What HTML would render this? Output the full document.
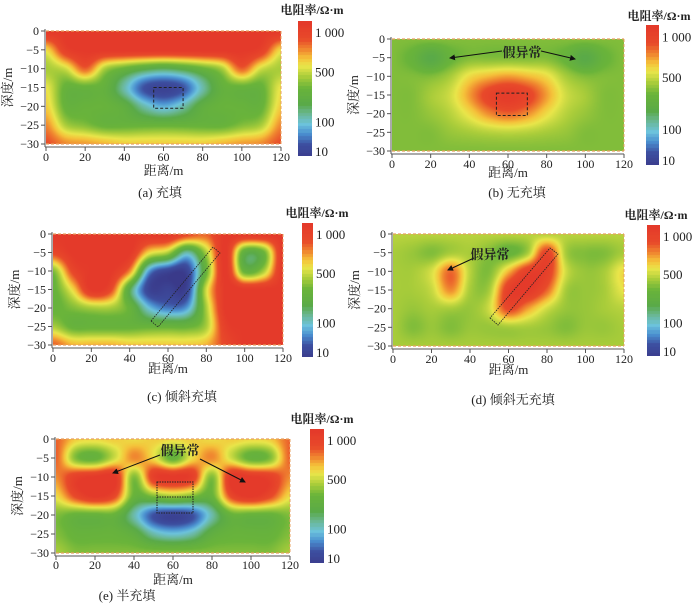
<!DOCTYPE html>
<html><head><meta charset="utf-8">
<style>
body{margin:0;background:#fff;width:700px;height:604px;overflow:hidden;position:relative;font-family:"Liberation Serif","Noto Serif CJK SC",serif}
canvas{position:absolute}
svg{position:absolute;left:0;top:0}
</style></head>
<body>
<svg id="ov" width="700" height="604"></svg>
<script>
// Resistivity grids (normalized colour scale 0=10 Ω·m ... 1=>1000 Ω·m), columns x=0..120 step 10, rows depth 0..-30 step 5
const xCats=[0,10,20,30,40,50,60,70,80,90,100,110,120];
const depthCats=[0,-5,-10,-15,-20,-25,-30];
const xTicks=[0,20,40,60,80,100,120];
const yTicks=[0,-5,-10,-15,-20,-25,-30];
const cbLabels=["1 000","500","100","10"];
const cbLabelVals=[0.91,0.62,0.25,0.03];
const gridA=[
[1,1,1,1,1,1,1,1,1,1,1,1,1],
[0.7,0.95,1,1,1,1,1,1,1,1,1,0.95,0.7],
[0.6,0.65,0.85,0.6,0.5,0.42,0.38,0.42,0.5,0.6,0.85,0.65,0.6],
[0.68,0.5,0.5,0.48,0.3,0.1,0.05,0.1,0.3,0.48,0.5,0.5,0.68],
[0.72,0.5,0.5,0.5,0.45,0.3,0.22,0.3,0.45,0.5,0.5,0.5,0.72],
[0.8,0.6,0.55,0.5,0.5,0.5,0.5,0.5,0.5,0.5,0.55,0.6,0.8],
[0.88,0.8,0.78,0.75,0.72,0.72,0.72,0.72,0.72,0.75,0.78,0.8,0.88]];
const gridB=[
[0.55,0.55,0.55,0.55,0.55,0.55,0.55,0.55,0.55,0.55,0.55,0.55,0.55],
[0.55,0.5,0.4,0.5,0.55,0.55,0.55,0.55,0.55,0.5,0.4,0.5,0.55],
[0.55,0.55,0.55,0.6,0.7,0.75,0.78,0.75,0.7,0.6,0.55,0.55,0.55],
[0.55,0.55,0.6,0.65,0.78,0.92,0.98,0.92,0.78,0.65,0.6,0.55,0.55],
[0.55,0.55,0.58,0.62,0.7,0.8,0.85,0.8,0.7,0.62,0.58,0.55,0.55],
[0.55,0.55,0.55,0.58,0.6,0.62,0.63,0.62,0.6,0.58,0.55,0.55,0.55],
[0.55,0.55,0.55,0.55,0.55,0.55,0.55,0.55,0.55,0.55,0.55,0.55,0.55]];
const gridC=[
[1,1,1,1,1,1,1,0.9,0.85,1,1,1,1],
[0.9,1,1,1,1,0.7,0.6,0.3,0.6,1,0.45,0.5,1],
[0.55,0.9,1,1,0.8,0.2,0.05,0.05,0.5,1,0.5,0.6,1],
[0.5,0.7,1,0.9,0.4,0.05,0.05,0.05,0.65,1,1,1,1],
[0.5,0.55,0.6,0.6,0.5,0.25,0.15,0.2,0.6,1,1,1,1],
[0.6,0.5,0.5,0.5,0.5,0.5,0.5,0.5,0.6,0.95,1,1,1],
[0.85,0.75,0.75,0.75,0.72,0.72,0.72,0.72,0.75,0.9,1,1,1]];
const gridD=[
[0.62,0.62,0.62,0.62,0.62,0.62,0.62,0.62,0.62,0.62,0.62,0.62,0.62],
[0.6,0.58,0.55,0.6,0.6,0.55,0.5,0.6,0.92,0.6,0.55,0.55,0.6],
[0.6,0.6,0.66,0.84,0.62,0.55,0.75,0.95,0.95,0.65,0.58,0.6,0.7],
[0.6,0.6,0.64,0.8,0.6,0.6,0.95,1,0.85,0.6,0.58,0.6,0.68],
[0.6,0.58,0.6,0.6,0.58,0.65,0.9,0.78,0.65,0.58,0.58,0.6,0.62],
[0.6,0.55,0.58,0.55,0.58,0.58,0.6,0.6,0.58,0.55,0.58,0.58,0.6],
[0.6,0.6,0.6,0.6,0.6,0.6,0.6,0.6,0.6,0.6,0.6,0.6,0.6]];
const gridE=[
[0.85,0.72,0.7,0.72,0.7,0.72,0.7,0.72,0.7,0.72,0.7,0.72,0.85],
[0.85,0.55,0.5,0.65,0.8,0.7,0.5,0.7,0.8,0.65,0.5,0.55,0.85],
[0.8,0.95,1,1,0.55,0.95,1,0.95,0.55,1,1,0.95,0.8],
[0.7,0.9,1,0.9,0.5,0.55,0.6,0.55,0.5,0.9,1,0.9,0.7],
[0.55,0.5,0.5,0.5,0.3,0.1,0.05,0.1,0.3,0.5,0.5,0.5,0.55],
[0.55,0.5,0.5,0.5,0.45,0.3,0.25,0.3,0.45,0.5,0.5,0.5,0.55],
[0.6,0.55,0.55,0.55,0.55,0.55,0.55,0.55,0.55,0.55,0.55,0.55,0.6]];

const stops=[[0,[58,58,138]],[0.1,[61,79,160]],[0.18,[74,143,208]],[0.25,[108,195,220]],[0.32,[107,184,154]],[0.4,[90,170,72]],[0.52,[106,180,58]],[0.6,[168,204,58]],[0.68,[233,230,74]],[0.74,[245,194,58]],[0.8,[240,138,48]],[0.88,[232,74,42]],[1,[228,58,42]]];
function cmap(v){v=Math.max(0,Math.min(1,v));for(let i=1;i<stops.length;i++){if(v<=stops[i][0]){const a=stops[i-1],b=stops[i],t=(v-a[0])/(b[0]-a[0]);return a[1].map((c,k)=>Math.round(c+(b[1][k]-c)*t));}}return stops[stops.length-1][1];}
function cr(p0,p1,p2,p3,t){return 0.5*((2*p1)+(-p0+p2)*t+(2*p0-5*p1+4*p2-p3)*t*t+(-p0+3*p1-3*p2+p3)*t*t*t);}
function sample(g,x,d){const c=Math.min(x/10,11.9999),r=Math.min(d/5,5.9999);const c0=Math.floor(c),r0=Math.floor(r);const tx=c-c0,ty=r-r0;
const cl=(v,m)=>Math.max(0,Math.min(m,v));const rows=[];
for(let k=-1;k<=2;k++){const row=g[cl(r0+k,6)];rows.push(cr(row[cl(c0-1,12)],row[c0],row[cl(c0+1,12)],row[cl(c0+2,12)],tx));}
return cr(rows[0],rows[1],rows[2],rows[3],ty);}

const NS="http://www.w3.org/2000/svg";
const ov=document.getElementById('ov');
function el(tag,at,parent){const e=document.createElementNS(NS,tag);for(const k in at)e.setAttribute(k,at[k]);(parent||ov).appendChild(e);return e;}
function txt(s,x,y,at,parent){const e=el('text',Object.assign({x:x,y:y,'font-size':12,fill:'#222'},at),parent);e.textContent=s;return e;}

const panels=[
{id:'a',g:gridA,x0:46,x1:281,y0:31,y1:144,cb:[298,14,21,156],cbt:[312,14],cap:['(a) 充填',160,197],xl:175,tl:17},
{id:'b',g:gridB,x0:392,x1:624,y0:39,y1:151,cb:[646,13,25,165],cbt:[659,20],cap:['(b) 无充填',517,197],xl:177,tl:17},
{id:'c',g:gridC,x0:53,x1:283,y0:234,y1:345,cb:[302,11,223,357],cbt:[317,217],cap:['(c) 倾斜充填',182,401],xl:373,tl:17},
{id:'d',g:gridD,x0:393,x1:624,y0:234,y1:346,cb:[647,13,225,356],cbt:[656,219],cap:['(d) 倾斜无充填',513,404],xl:374,tl:17},
{id:'e',g:gridE,x0:56,x1:290,y0:439,y1:553,cb:[310,14,429,563],cbt:[322,423],cap:['(e) 半充填',127,600],xl:584,tl:16}];

panels.forEach(p=>{
  const w=p.x1-p.x0,h=p.y1-p.y0;
  const cv=document.createElement('canvas');cv.width=w;cv.height=h;cv.style.left=p.x0+'px';cv.style.top=p.y0+'px';
  
  
  document.body.insertBefore(cv,ov);
  const ctx=cv.getContext('2d'),im=ctx.createImageData(w,h);
  for(let j=0;j<h;j++)for(let i=0;i<w;i++){const v=sample(p.g,i/(w-1)*120,j/(h-1)*30);const c=cmap(v),o=(j*w+i)*4;im.data[o]=c[0];im.data[o+1]=c[1];im.data[o+2]=c[2];im.data[o+3]=255;}
  ctx.putImageData(im,0,0);
  const [cx,cw,cy0,cy1]=p.cb,ch=cy1-cy0;
  const cb=document.createElement('canvas');cb.width=cw;cb.height=ch;cb.style.left=cx+'px';cb.style.top=cy0+'px';
  
  
  document.body.insertBefore(cb,ov);
  const bc=cb.getContext('2d');
  for(let j=0;j<ch;j++){const v=1-Math.floor(j/ch*40)/40;const c=cmap(v);bc.fillStyle=`rgb(${c[0]},${c[1]},${c[2]})`;bc.fillRect(0,j,cw,1);}
  const grp=el('g',{});
  
  
  const sx=v=>p.x0+v/120*w, sy=d=>p.y0+(-d)/30*h;
  el('line',{x1:p.x0,y1:p.y0,x2:p.x1,y2:p.y0,stroke:'#e8a060','stroke-dasharray':'3,2','stroke-width':1.2},grp);
  el('line',{x1:p.x0,y1:p.y1,x2:p.x1,y2:p.y1,stroke:'#e8a060','stroke-dasharray':'3,2','stroke-width':1.2},grp);
  el('line',{x1:p.x1,y1:p.y0,x2:p.x1,y2:p.y1,stroke:'#e8a060','stroke-dasharray':'3,2','stroke-width':1},grp);
  el('line',{x1:p.x0-1,y1:p.y0-2,x2:p.x0-1,y2:p.y1+3,stroke:'#555'},grp);
  el('line',{x1:p.x0-1,y1:p.y1+3,x2:p.x1,y2:p.y1+3,stroke:'#555'},grp);
  xTicks.forEach(t=>{el('line',{x1:sx(t),y1:p.y1+3,x2:sx(t),y2:p.y1+7,stroke:'#555'},grp);const e=txt(t,sx(t),p.y1+p.tl,{'text-anchor':'middle'},grp);});
  yTicks.forEach(t=>{el('line',{x1:p.x0-5,y1:sy(t),x2:p.x0-1,y2:sy(t),stroke:'#555'},grp);const e=txt(t===0?'0':'−'+(-t),p.x0-7,sy(t)+4,{'text-anchor':'end'},grp);});
  const xl=txt('距离/m',(p.x0+p.x1)/2,p.xl,{'text-anchor':'middle','font-size':13},grp);
  
  
  const yc=(p.y0+p.y1)/2, yx=p.x0-34;
  const yl=txt('深度/m',yx,yc,{'text-anchor':'middle','font-size':13,transform:`rotate(-90 ${yx} ${yc})`},grp);
  
  
  const ct=txt('电阻率/Ω·m',p.cbt[0],p.cbt[1],{'text-anchor':'middle','font-size':12,'font-weight':'bold'},grp);
  
  
  cbLabels.forEach((s,k)=>{const e=txt(s,cx+cw+3,cy0+(1-cbLabelVals[k])*ch+4,{'font-size':13},grp);});
  const cap=txt(p.cap[0],p.cap[1],p.cap[2],{'text-anchor':'middle','font-size':13},grp);
  
  
  p.sx=sx;p.sy=sy;
});
const A=panels[0],B=panels[1];
el('rect',{x:A.sx(55),y:A.sy(-15),width:A.sx(70)-A.sx(55),height:A.sy(-20.5)-A.sy(-15),fill:'none',stroke:'#222','stroke-dasharray':'3,2'});
el('rect',{x:B.sx(54),y:B.sy(-14.5),width:B.sx(70)-B.sx(54),height:B.sy(-20.5)-B.sy(-14.5),fill:'none',stroke:'#222','stroke-dasharray':'3,2'});
el('polygon',{points:'151,321 158,327 220,253 213,247',fill:'none',stroke:'#222','stroke-dasharray':'1.5,1','stroke-width':0.8});
el('polygon',{points:'490,318 498,325 558,254 550,248',fill:'none',stroke:'#222','stroke-dasharray':'1.5,1','stroke-width':0.8});
el('rect',{x:157,y:482,width:36,height:31,fill:'none',stroke:'#222','stroke-dasharray':'1.5,1'});
el('line',{x1:157,y1:497,x2:193,y2:497,stroke:'#222','stroke-dasharray':'1.5,1'});
const defs=el('defs',{});const mk=el('marker',{id:'ah',markerWidth:6,markerHeight:6,refX:5,refY:3,orient:'auto'},defs);el('path',{d:'M0,0 L6,3 L0,6 z',fill:'#111'},mk);
[[502,51,450,58],[541,51,575,59],[474,258,448,270],[160,455,113,473],[200,459,245,482]].forEach(a=>{const l=el('line',{x1:a[0],y1:a[1],x2:a[2],y2:a[3],stroke:'#111','stroke-width':1,'marker-end':'url(#ah)'});});
[[522,57],[490,259],[180,455]].forEach(t=>{const e=txt('假异常',t[0],t[1],{'text-anchor':'middle','font-size':13,'font-weight':'bold'});});
</script>
</body></html>
